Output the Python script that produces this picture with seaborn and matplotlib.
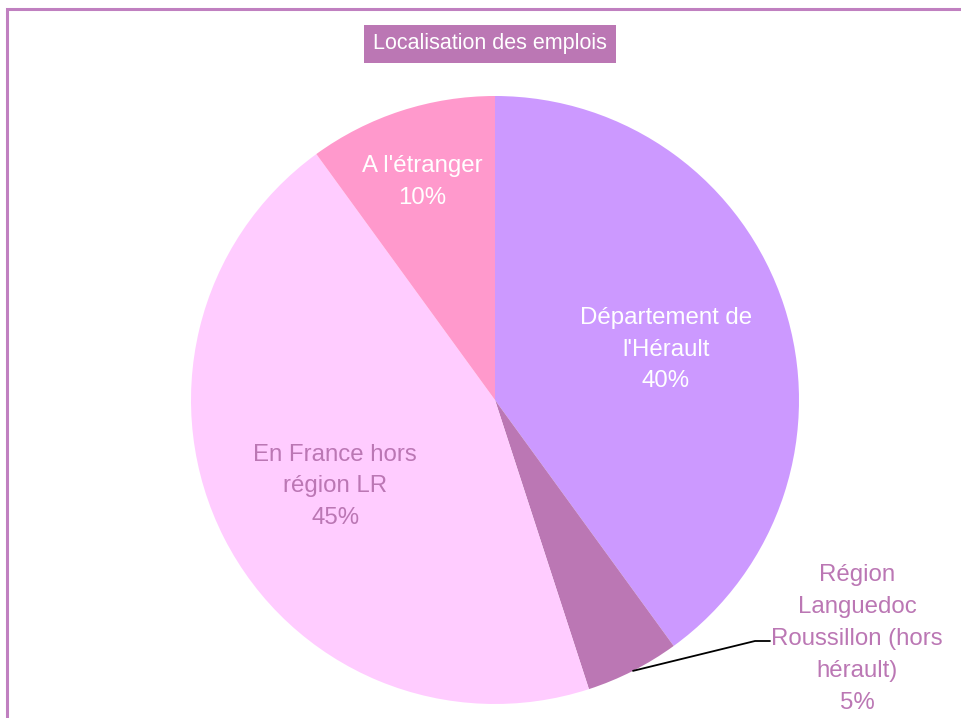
import matplotlib.pyplot as plt
import seaborn as sns
import numpy as np
from matplotlib.patches import Rectangle

labels = ["Département de\nl'Hérault", "Région\nLanguedoc\nRoussillon (hors\nhérault)",
          "En France hors\nrégion LR", "A l'étranger"]
shares = [40, 5, 45, 10]
colors = ["#CC99FF", "#BB77B4", "#FFCCFF", "#FF99CC"]
text_colors = ["white", "#BB77B4", "#BB77B4", "white"]
label_radius = [0.59, None, 0.59, 0.77]

sns.set_theme(style="white")
plt.rcParams['font.family'] = ['Liberation Sans', 'DejaVu Sans']

fig = plt.figure(figsize=(9.62, 7.18), dpi=100)
ax = fig.add_axes([0, 0, 1, 1])

cx, cy, r = 495, 318, 304
wedges, _ = ax.pie(shares, colors=colors, startangle=90, counterclock=False,
                   center=(cx, cy), radius=r, frame=True,
                   wedgeprops=dict(linewidth=0))
ax.set_xlim(0, 962)
ax.set_ylim(0, 718)
ax.set_aspect('equal')
ax.axis('off')

for w, lab, pct, tc, lr in zip(wedges, labels, shares, text_colors, label_radius):
    mid = np.deg2rad((w.theta1 + w.theta2) / 2)
    txt = f"{lab}\n{pct}%"
    if lr is not None:
        ax.text(cx + lr * r * np.cos(mid), cy + lr * r * np.sin(mid) - 5, txt,
                ha='center', va='center', color=tc, fontsize=17.3, linespacing=1.58)
    else:
        ex, ey = cx + r * np.cos(mid), cy + r * np.sin(mid)
        ax.plot([ex, 755, 770], [ey, 77, 77], color='black', lw=1.3)
        ax.text(857, 79, txt, ha='center', va='center', color=tc,
                fontsize=17.3, linespacing=1.58)

ax.text(490, 674, "Localisation des emplois", ha='center', va='center',
        color='white', fontsize=15.5,
        bbox=dict(boxstyle='square,pad=0.4', facecolor='#BB77B4', edgecolor='none'))

ax.add_patch(Rectangle((7.5, -20), 1000, 729, fill=False, edgecolor='#C080C0',
                       linewidth=2.2, clip_on=False))

fig.savefig("out.png", dpi=100)
